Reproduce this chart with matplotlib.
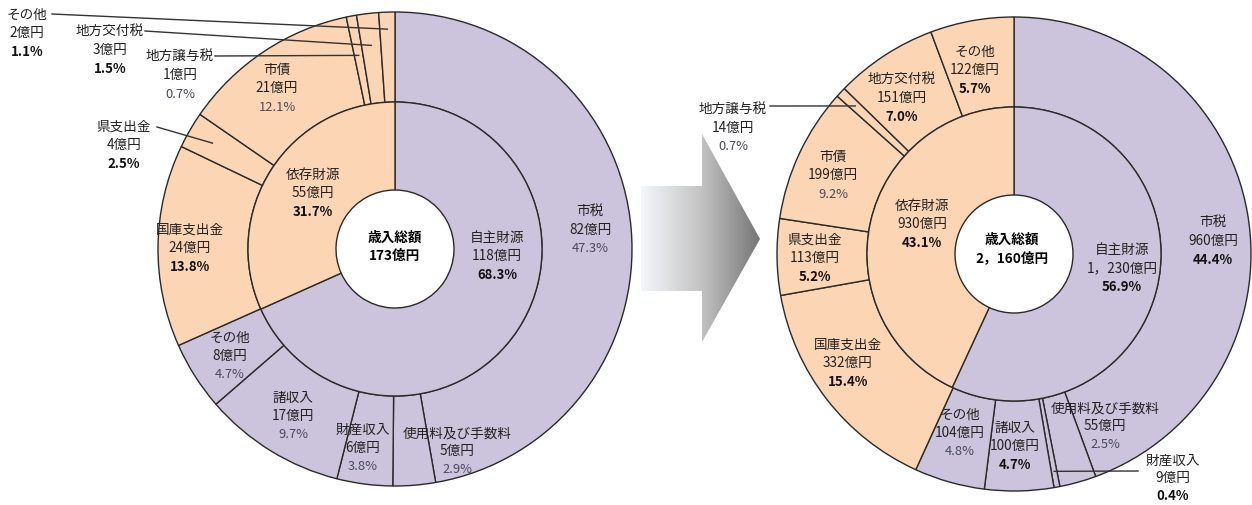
import numpy as np
import matplotlib
matplotlib.use('Agg')
import matplotlib.pyplot as plt
from matplotlib.patches import Polygon
from matplotlib.colors import LinearSegmentedColormap

plt.rcParams['font.family'] = ['Noto Sans CJK JP', 'DejaVu Sans']

# 歳入の内訳 (左: 173億円, 右: 2,160億円)
outer_names = ['市税', '使用料及び手数料', '財産収入', '諸収入', 'その他',
               '国庫支出金', '県支出金', '市債', '地方譲与税', '地方交付税', 'その他']
outer_group = ['自主'] * 5 + ['依存'] * 6
inner_names = ['自主財源', '依存財源']

left_outer_oku = [82, 5, 6, 17, 8, 24, 4, 21, 1, 3, 2]
left_outer_pct = [47.3, 2.9, 3.8, 9.7, 4.7, 13.8, 2.5, 12.1, 0.7, 1.5, 1.1]
left_inner_oku = [118, 55]
left_inner_pct = [68.3, 31.7]
left_total = 173

right_outer_oku = [960, 55, 9, 100, 104, 332, 113, 199, 14, 151, 122]
right_outer_pct = [44.4, 2.5, 0.4, 4.7, 4.8, 15.4, 5.2, 9.2, 0.7, 7.0, 5.7]
right_inner_oku = [1230, 930]
right_inner_pct = [56.9, 43.1]
right_total = 2160

W, H = 1252, 506
PURPLE = '#ccc3dd'
PEACH = '#fcd5b4'
EDGE = '#2a2a2a'
GREY_TXT = '#4a4a5c'
FS = 9.8
col = {'自主': PURPLE, '依存': PEACH}


def Y(y):
    # 画像座標(上から)を軸座標に変換
    return H - y


def oku(v):
    s = '{:,}'.format(v).replace(',', '，')
    return s + '億円'


def label(ax, x, y, name, val, pct, bold, step=18):
    ax.text(x, Y(y), name, ha='center', va='center', fontsize=FS, color='#222222')
    ax.text(x, Y(y + step), oku(val), ha='center', va='center', fontsize=FS, color='#222222')
    if bold:
        ax.text(x, Y(y + 2 * step + 1), '%.1f%%' % pct, ha='center', va='center',
                fontsize=FS - 0.3, color='#111111', fontweight='bold')
    else:
        ax.text(x, Y(y + 2 * step + 1), '%.1f%%' % pct, ha='center', va='center',
                fontsize=FS - 0.5, color=GREY_TXT)


def donut(ax, cx, cy, outer_pct, inner_pct):
    c = (cx, Y(cy))
    w_out, _ = ax.pie(outer_pct, radius=237, center=c, startangle=90, counterclock=False,
                      colors=[col[g] for g in outer_group],
                      wedgeprops=dict(width=90, edgecolor=EDGE, linewidth=1.0))
    ax.pie(inner_pct, radius=147, center=c, startangle=90, counterclock=False,
           colors=[PURPLE, PEACH],
           wedgeprops=dict(width=88, edgecolor=EDGE, linewidth=1.0))
    return w_out


def leader(ax, cx, cy, wedge, r, start):
    a = np.deg2rad((wedge.theta1 + wedge.theta2) / 2)
    ex, ey = cx + r * np.cos(a), Y(cy) + r * np.sin(a)
    ax.plot([start[0], ex], [Y(start[1]), ey], color='#333333', lw=1.0, zorder=5)


fig = plt.figure(figsize=(W / 100, H / 100), dpi=100)
ax = fig.add_axes([0, 0, 1, 1])

# 左の円
lcx, lcy = 395, 250
lw = donut(ax, lcx, lcy, left_outer_pct, left_inner_pct)
left_pos = [(590, 212), (457, 433), (363, 430), (293, 398), (230, 338),
            (190, 230), (124, 127), (277, 70), (180, 57), (110, 32), (27, 15)]
left_bold = [False, False, False, False, False, True, True, False, False, True, True]
for i in range(len(outer_names)):
    label(ax, left_pos[i][0], left_pos[i][1], outer_names[i], left_outer_oku[i],
          left_outer_pct[i], left_bold[i])
label(ax, 497, 238, inner_names[0], left_inner_oku[0], left_inner_pct[0], True)
label(ax, 313, 175, inner_names[1], left_inner_oku[1], left_inner_pct[1], True)
ax.text(lcx, Y(238), '歳入総額', ha='center', va='center', fontsize=FS, fontweight='bold')
ax.text(lcx, Y(256), oku(left_total), ha='center', va='center', fontsize=FS, fontweight='bold')
leader(ax, lcx, lcy, lw[10], 220, (52, 15))
leader(ax, lcx, lcy, lw[9], 205, (145, 32))
leader(ax, lcx, lcy, lw[8], 197, (215, 57))
leader(ax, lcx, lcy, lw[6], 211, (157, 128))

# 右の円
rcx, rcy = 1014, 255
rw = donut(ax, rcx, rcy, right_outer_pct, right_inner_pct)
right_pos = [(1213, 223), (1105, 408), (1173, 461), (1015, 428), (960, 415),
             (848, 345), (815, 240), (833, 157), (733, 110), (902, 80), (975, 52)]
right_step = [18, 18, 17, 18, 18, 18, 18, 18, 18, 18, 18]
right_bold = [True, False, True, True, False, True, True, False, False, True, True]
for i in range(len(outer_names)):
    label(ax, right_pos[i][0], right_pos[i][1], outer_names[i], right_outer_oku[i],
          right_outer_pct[i], right_bold[i], right_step[i])
label(ax, 1122, 250, inner_names[0], right_inner_oku[0], right_inner_pct[0], True)
label(ax, 922, 206, inner_names[1], right_inner_oku[1], right_inner_pct[1], True)
ax.text(1012, Y(240), '歳入総額', ha='center', va='center', fontsize=FS, fontweight='bold')
ax.text(1012, Y(258), oku(right_total), ha='center', va='center', fontsize=FS, fontweight='bold')
leader(ax, rcx, rcy, rw[8], 217, (770, 107))
leader(ax, rcx, rcy, rw[2], 221, (1138, 472))

# 中央の矢印 (グラデーション)
pts = [(641, 187), (702, 187), (702, 135), (760, 240), (702, 343), (702, 292), (641, 292)]
arrow = Polygon([(x, Y(y)) for x, y in pts], closed=True, transform=ax.transData,
                facecolor='none', edgecolor='none')
ax.add_patch(arrow)
grad = np.linspace(0, 1, 256).reshape(1, -1)
cmap = LinearSegmentedColormap.from_list('arrow', ['#f4f7fb', '#c4c4c4', '#767676'])
im = ax.imshow(grad, extent=(641, 760, Y(343), Y(135)), cmap=cmap, aspect='auto', zorder=0)
im.set_clip_path(arrow)

ax.set_xlim(0, W)
ax.set_ylim(0, H)
ax.set_aspect('auto')
ax.axis('off')

fig.savefig('out.png', dpi=100, facecolor='white')
